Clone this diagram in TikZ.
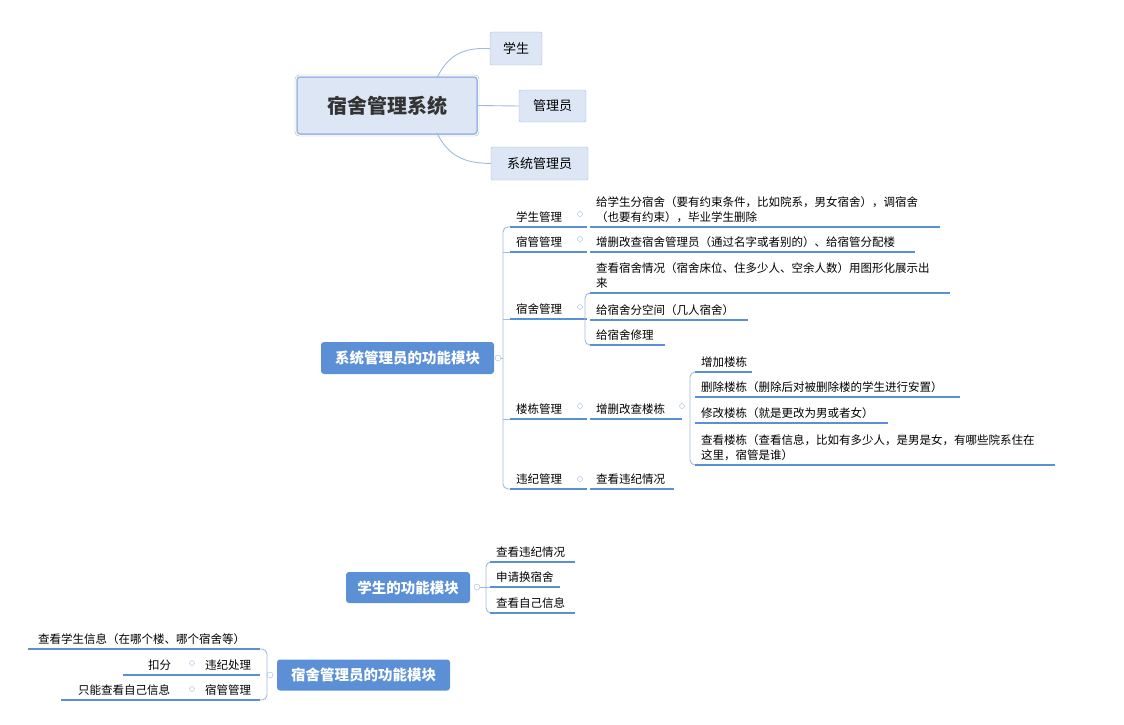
\documentclass[tikz,border=0pt]{standalone}
\usepackage{fontspec}
\setmainfont{Noto Sans CJK SC}
\begin{document}
\begin{tikzpicture}[x=1pt,y=-1pt,font=\fontsize{11.5}{15}\selectfont]
\definecolor{mblue}{HTML}{5B8FD6}
\definecolor{lblue}{HTML}{9DB9E4}
\definecolor{cfill}{HTML}{DCE6F4}
\tikzset{
 ul/.style={draw=mblue,line width=1.8pt},
 br/.style={draw=lblue,line width=0.9pt,rounded corners=5pt},
 tx/.style={anchor=south west,inner sep=0pt,align=left},
 main/.style={fill=mblue,rounded corners=3pt,text=white,font=\fontsize{14.5}{17}\selectfont\bfseries,inner sep=0pt},
 sub/.style={draw=lblue,fill=cfill,rounded corners=2pt,inner sep=0pt,font=\fontsize{13}{15}\selectfont},
 cir/.style={circle,draw=lblue,inner sep=0pt,minimum size=6pt,fill=white}
}
\useasboundingbox (0,0) rectangle (1124,725);
\newcommand\ulx[6]{% name, x1, x2, y, text, width
 \coordinate (#1a) at (#2,#4); \coordinate (#1b) at (#3,#4);
 \node[tx,text width=#6] (#1) at (#2+6,#4-4) {#5};
 \draw[ul] (#1a) -- (#1b);}
% central
\node[draw=lblue,line width=1.5pt,fill=cfill,rounded corners=3pt,minimum width=180pt,minimum height=57pt,inner sep=0pt,font=\fontsize{20}{22}\selectfont\bfseries,text=black!80] (c) at (387,105.5) {宿舍管理系统};
\draw[gray!60,rounded corners=4pt] (295,75) rectangle (479,136);
\node[sub,minimum width=52pt,minimum height=33pt] (s1) at (516,48.5) {学生};
\node[sub,minimum width=67pt,minimum height=32pt] (s2) at (552.5,106) {管理员};
\node[sub,minimum width=97pt,minimum height=33pt] (s3) at (539.5,163.5) {系统管理员};
\draw[lblue,line width=0.9pt] (437,78) .. controls (450,50) and (470,48) .. (s1.west);
\draw[lblue,line width=0.9pt] (c.east) -- (s2.west);
\draw[lblue,line width=0.9pt] (437,133) .. controls (450,160) and (470,163) .. (s3.west);
% section 1
\node[main,minimum width=173pt,minimum height=32pt] (m1) at (407.5,358) {系统管理员的功能模块};
\node[cir] (m1c) at (498,358) {};
\draw[br] (510,227) -- (503,227) -- (503,489) -- (510,489);
\draw[lblue,line width=0.9pt] (m1c) -- (503,358);
\foreach \y in {252,319,419} \draw[lblue,line width=0.9pt] (503,\y) -- (510,\y);
\ulx{a1}{510}{587}{227}{学生管理}{70pt}
\ulx{a2}{510}{587}{252}{宿管管理}{70pt}
\ulx{a3}{510}{587}{319}{宿舍管理}{70pt}
\ulx{a4}{510}{587}{419}{楼栋管理}{70pt}
\ulx{a5}{510}{587}{489}{违纪管理}{70pt}
\foreach \y/\n in {214/k1,239/k2,307/k3,406/k4,479/k5} \node[cir,minimum size=5pt] (\n) at (580,\y) {};
\ulx{b1}{590}{940}{227}{给学生分宿舍（要有约束条件，比如院系，男女宿舍），调宿舍\\（也要有约束），毕业学生删除}{345pt}
\ulx{b2}{590}{915}{252}{增删改查宿舍管理员（通过名字或者别的）、给宿管分配楼}{330pt}
\ulx{b3}{590}{950}{293}{查看宿舍情况（宿舍床位、住多少人、空余人数）用图形化展示出\\来}{355pt}
\ulx{b4}{590}{748}{320}{给宿舍分空间（几人宿舍）}{160pt}
\ulx{b5}{590}{665}{345}{给宿舍修理}{80pt}
\draw[br] (590,293) -- (585,293) -- (585,345) -- (590,345);
\ulx{b6}{590}{682}{419}{增删改查楼栋}{90pt}
\ulx{b7}{590}{674}{489}{查看违纪情况}{90pt}
\node[cir,minimum size=5pt] (k6) at (682,406) {};
\draw[br] (695,372) -- (690,372) -- (690,465) -- (695,465);
\ulx{d1}{695}{752}{372}{增加楼栋}{60pt}
\ulx{d2}{695}{960}{397}{删除楼栋（删除后对被删除楼的学生进行安置）}{270pt}
\ulx{d3}{695}{888}{423}{修改楼栋（就是更改为男或者女）}{200pt}
\ulx{d4}{695}{1055}{465}{查看楼栋（查看信息，比如有多少人，是男是女，有哪些院系住在\\这里，宿管是谁）}{365pt}
% section 2
\node[main,minimum width=124pt,minimum height=31pt] (m2) at (408,587.5) {学生的功能模块};
\node[cir] (m2c) at (477,587) {};
\draw[br] (492,562) -- (486,562) -- (486,613) -- (492,613);
\draw[lblue,line width=0.9pt] (m2c) -- (492,587);
\ulx{e1}{490}{575}{562}{查看违纪情况}{90pt}
\ulx{e2}{490}{560}{587}{申请换宿舍}{80pt}
\ulx{e3}{490}{575}{613}{查看自己信息}{90pt}
% section 3
\node[main,minimum width=173pt,minimum height=31pt] (m3) at (363.5,675) {宿舍管理员的功能模块};
\node[cir] (m3c) at (270,675) {};
\draw[br] (260,649) -- (267,649) -- (267,700) -- (260,700);
\coordinate (f1a) at (28,649); \coordinate (f1b) at (260,649);
\node[tx] (f1) at (38,645) {查看学生信息（在哪个楼、哪个宿舍等）};
\draw[ul] (f1a) -- (f1b);
\coordinate (f2a) at (172,675); \coordinate (f2b) at (260,675);
\node[tx] (f2) at (205,671) {违纪处理};
\draw[ul] (f2a) -- (f2b);
\coordinate (f3a) at (172,700); \coordinate (f3b) at (260,700);
\node[tx] (f3) at (205,696) {宿管管理};
\draw[ul] (f3a) -- (f3b);
\node[cir,minimum size=5pt] (g1) at (192,663) {};
\node[cir,minimum size=5pt] (g2) at (192,689) {};
\coordinate (h1a) at (123,675); \coordinate (h1b) at (172,675);
\node[tx] (h1) at (148,671) {扣分};
\draw[ul] (h1a) -- (h1b);
\coordinate (h2a) at (61,700); \coordinate (h2b) at (172,700);
\node[tx] (h2) at (78,696) {只能查看自己信息};
\draw[ul] (h2a) -- (h2b);
\end{tikzpicture}
\end{document}
